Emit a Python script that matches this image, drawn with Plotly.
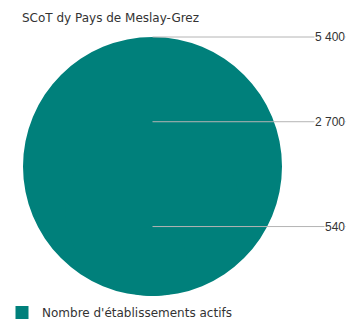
import plotly.graph_objects as go

title = "SCoT dy Pays de Meslay-Grez"
series_name = "Nombre d'établissements actifs"
legend_values = [5400, 2700, 540]

teal = "#00807b"
exponent = 0.5716  # proportional symbol scaling (Flannery)
vmax = max(legend_values)
radii = [(v / vmax) ** exponent for v in legend_values]

label_x = 1.494

fig = go.Figure()

# nested circles, bottom-aligned
for r in radii:
    fig.add_shape(type="circle", xref="x", yref="y",
                  x0=-r, x1=r, y0=0, y1=2 * r,
                  fillcolor=teal, line=dict(width=0), layer="below")

# leader lines from centre to labels
for v, r in zip(legend_values, radii):
    fig.add_trace(go.Scatter(x=[0, label_x], y=[2 * r, 2 * r], mode="lines",
                             line=dict(color="#b4b4b4", width=1),
                             showlegend=False, hoverinfo="skip"))
    fig.add_annotation(x=label_x, y=2 * r, xref="x", yref="y",
                       text=f"{v:,}".replace(",", " "), showarrow=False,
                       xanchor="right", yanchor="middle", bgcolor="white",
                       borderpad=0,
                       font=dict(family="Liberation Sans, Arial", size=12, color="#333333"))

# legend entry
fig.add_trace(go.Scatter(x=[None], y=[None], mode="markers", name=series_name,
                         marker=dict(symbol="square", size=13, color=teal)))

fig.update_layout(
    width=354, height=322,
    margin=dict(l=0, r=0, t=0, b=0, autoexpand=False),
    paper_bgcolor="white", plot_bgcolor="white",
    font=dict(family="DejaVu Sans, sans-serif", size=12, color="#333333"),
    title=dict(text=title, x=22 / 354, xanchor="left", y=1 - 18 / 322, yanchor="middle",
               font=dict(size=12, color="#333333")),
    xaxis=dict(visible=False, range=[-152.5 / 129.5, (354 - 152.5) / 129.5], fixedrange=True),
    yaxis=dict(visible=False, range=[-26 / 129.5, 296 / 129.5], fixedrange=True),
    legend=dict(x=2 / 354, xanchor="left", y=-5 / 322, yanchor="bottom", orientation="h",
                font=dict(size=12, color="#333333"), bgcolor="rgba(0,0,0,0)"),
    showlegend=True,
)

fig.write_html("out.html", config={"displayModeBar": False},
               post_script="document.body.style.margin='0';")
